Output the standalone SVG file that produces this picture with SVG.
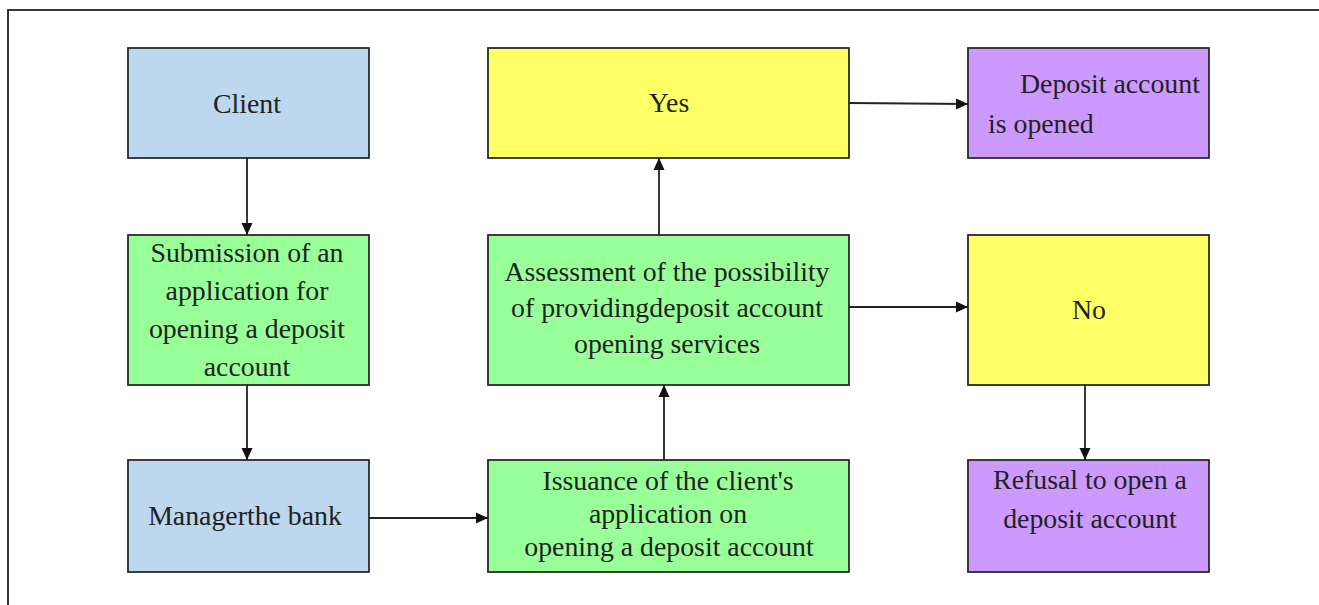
<svg xmlns="http://www.w3.org/2000/svg" width="1319" height="605" viewBox="0 0 1319 605">
<defs>
<style>
.box{stroke:#2b2b2b;stroke-width:1.8}
.blue{fill:#bdd7ee}.green{fill:#99ff99}.yellow{fill:#ffff66}.purple{fill:#cc99ff}
text{font-family:"Liberation Serif","Times New Roman",serif;font-size:27.8px;fill:#222}
.c{text-anchor:middle}
.conn line{stroke:#222;stroke-width:1.8;marker-end:url(#ah)}
</style>
<marker id="ah" viewBox="0 0 12 12" refX="12" refY="6" markerWidth="12" markerHeight="12" markerUnits="userSpaceOnUse" orient="auto">
<path d="M0,0.5 L12,6 L0,11.5 z" fill="#111"/>
</marker>
</defs>
<rect x="0" y="0" width="1319" height="605" fill="#fff"/>
<rect x="8" y="10" width="1340" height="640" fill="none" stroke="#222" stroke-width="1.8"/>
<g id="client"><rect class="box blue" x="128" y="48" width="241" height="110"/><text class="c" x="247" y="113">Client</text></g>
<g id="submission"><rect class="box green" x="128" y="235" width="241" height="150"/>
<text class="c" x="247" y="262">Submission of an</text>
<text class="c" x="247" y="300">application for</text>
<text class="c" x="247" y="338">opening a deposit</text>
<text class="c" x="247" y="376">account</text></g>
<g id="manager"><rect class="box blue" x="128" y="460" width="241" height="112"/><text class="c" x="245" y="525">Managerthe bank</text></g>
<g id="yes"><rect class="box yellow" x="488" y="48" width="361" height="110"/><text class="c" x="669" y="112">Yes</text></g>
<g id="assessment"><rect class="box green" x="488" y="235" width="361" height="150"/>
<text class="c" x="667" y="281">Assessment of the possibility</text>
<text class="c" x="667" y="317">of providingdeposit account</text>
<text class="c" x="667" y="353">opening services</text></g>
<g id="issuance"><rect class="box green" x="488" y="460" width="361" height="112"/>
<text class="c" x="668" y="490">Issuance of the client's</text>
<text class="c" x="668" y="523">application on</text>
<text class="c" x="669" y="556">opening a deposit account</text></g>
<g id="opened"><rect class="box purple" x="968" y="48" width="241" height="110"/>
<text x="1020" y="93">Deposit account</text>
<text x="988" y="133">is opened</text></g>
<g id="no"><rect class="box yellow" x="968" y="235" width="241" height="150"/><text class="c" x="1089" y="319">No</text></g>
<g id="refusal"><rect class="box purple" x="968" y="460" width="241" height="112"/>
<text class="c" x="1090" y="489">Refusal to open a</text>
<text class="c" x="1090" y="528">deposit account</text></g>
<g id="connectors" class="conn">
<line x1="247" y1="158" x2="247" y2="235"/>
<line x1="247" y1="385" x2="247" y2="460"/>
<line x1="369" y1="518" x2="488" y2="518"/>
<line x1="664" y1="460" x2="664" y2="385"/>
<line x1="659" y1="235" x2="659" y2="158"/>
<line x1="849" y1="103" x2="968" y2="104"/>
<line x1="849" y1="307" x2="968" y2="307"/>
<line x1="1085" y1="385" x2="1085" y2="460"/>
</g>
</svg>
